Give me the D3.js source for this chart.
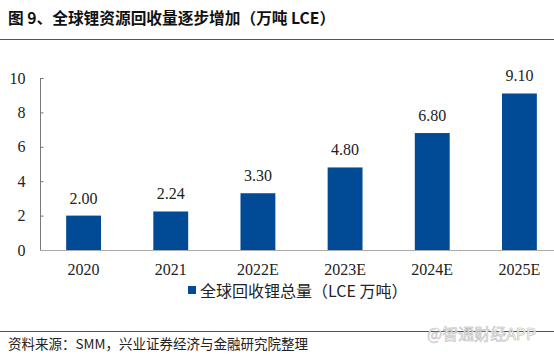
<!DOCTYPE html>
<html><head><meta charset="utf-8">
<script src="https://cdn.jsdelivr.net/npm/d3@7"></script>
<style>body{margin:0;background:#fff}svg{display:block}</style>
</head><body>
<script>
const categories = ["2020","2021","2022E","2023E","2024E","2025E"];
const values = [2.00, 2.24, 3.30, 4.80, 6.80, 9.10];
const yTicks = [0,2,4,6,8,10];
const title = "图 9、全球锂资源回收量逐步增加（万吨 LCE）";
const legendLabel = "全球回收锂总量（LCE 万吨）";
const source = "资料来源：SMM，兴业证券经济与金融研究院整理";
const watermark = "@智通财经APP";

const W=554,H=355;
const svg=d3.select("body").append("svg").attr("width",W).attr("height",H);
const serif="'Liberation Serif','Times New Roman',serif";
const cjk="'Noto Sans CJK SC','Liberation Serif',serif";

svg.append("text").attr("x",8).attr("y",24).attr("font-family",cjk).attr("font-weight","bold")
  .attr("font-size",15.7).attr("fill","#111").text(title);
svg.append("line").attr("x1",0).attr("x2",W).attr("y1",39.5).attr("y2",39.5).attr("stroke","#555").attr("stroke-width",1.2);

const x=d3.scaleBand().domain(categories).range([40,563]).paddingInner(0.6).paddingOuter(0.3);
const y=d3.scaleLinear().domain([0,10]).range([250,78]);

// y axis
const ya=svg.append("g").attr("transform","translate(40.5,0)")
  .call(d3.axisLeft(y).tickValues(yTicks).tickSize(-3).tickPadding(15).tickFormat(d3.format("d")));
ya.select(".domain").attr("stroke","#777").attr("d","M0,78V250");
ya.selectAll(".tick line").attr("stroke","#777");
ya.selectAll("text").attr("font-family",serif).attr("font-size",16).attr("fill","#222");

// bars
svg.selectAll("rect.bar").data(values).enter().append("rect").attr("class","bar")
  .attr("x",(d,i)=>x(categories[i])).attr("width",x.bandwidth())
  .attr("y",d=>y(d)).attr("height",d=>y(0)-y(d)).attr("fill","#004a96");

svg.selectAll("text.val").data(values).enter().append("text").attr("class","val")
  .attr("x",(d,i)=>x(categories[i])+x.bandwidth()/2).attr("y",d=>y(d)-12)
  .attr("text-anchor","middle").attr("font-family",serif).attr("font-size",16).attr("fill","#222")
  .text(d=>d.toFixed(2));

// x axis
const xa=svg.append("g").attr("transform","translate(0,250.5)")
  .call(d3.axisBottom(x).tickSize(0).tickPadding(13));
xa.select(".domain").attr("stroke","#aaa").attr("d","M40,0H554");
xa.selectAll("text").attr("font-family",serif).attr("font-size",16).attr("fill","#222");

// legend
svg.append("rect").attr("x",188).attr("y",286).attr("width",8).attr("height",8).attr("fill","#004a96");
svg.append("text").attr("x",200).attr("y",296.5).attr("font-family",cjk).attr("font-size",16).attr("fill","#222").text(legendLabel);

// footer
svg.append("line").attr("x1",0).attr("x2",W).attr("y1",331.5).attr("y2",331.5).attr("stroke","#555").attr("stroke-width",1.2);
svg.append("text").attr("x",8).attr("y",349).attr("font-family",cjk).attr("font-size",13.5).attr("fill","#222").text(source);
svg.append("text").attr("x",427).attr("y",340).attr("font-family","'Noto Sans CJK SC',sans-serif").attr("font-size",16)
  .attr("fill","#fff").attr("stroke","#bbb").attr("stroke-width",0.6).text(watermark);
</script>
</body></html>
